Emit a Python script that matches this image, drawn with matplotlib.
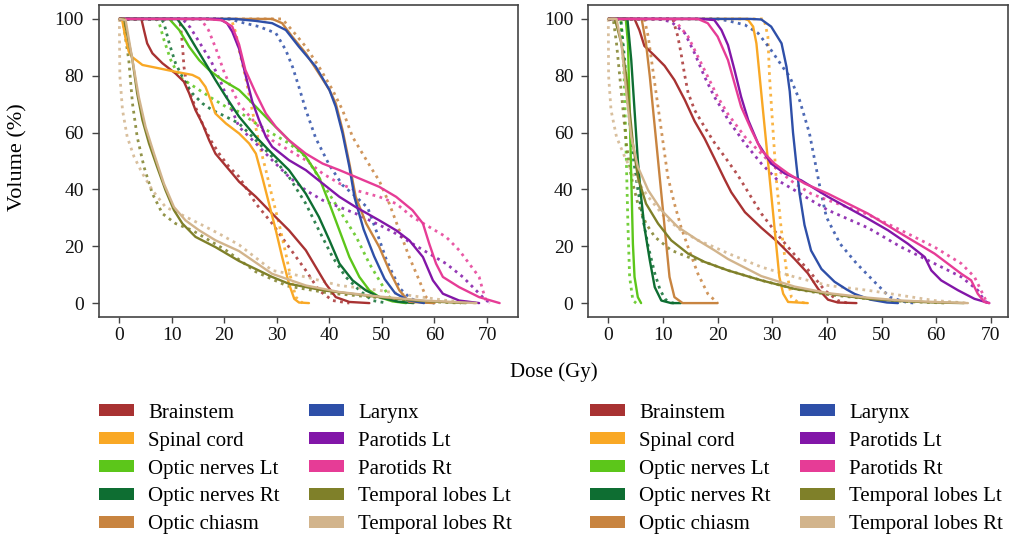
import matplotlib
matplotlib.use("Agg")
import matplotlib.pyplot as plt
from matplotlib.patches import Patch

plt.rcParams['font.family'] = ['Liberation Serif', 'DejaVu Serif']

structures = ['Brainstem', 'Spinal cord', 'Optic nerves Lt', 'Optic nerves Rt', 'Optic chiasm',
              'Larynx', 'Parotids Lt', 'Parotids Rt', 'Temporal lobes Lt', 'Temporal lobes Rt']
colors = ['#A83232', '#F9A825', '#5CC61A', '#0E6E32', '#C88440',
          '#2E4FA8', '#8216A8', '#E63C96', '#7F8029', '#D2B48C']

x_ticks = [0, 10, 20, 30, 40, 50, 60, 70]
y_ticks = [0, 20, 40, 60, 80, 100]

# ---------------- LEFT PANEL ----------------
# solid curves
L_brainstem_s_dose = [0, 4.2, 4.7, 5.3, 6.3, 8.2, 10.7, 12.3, 13.3, 14.5, 15.8, 17.1, 18.3, 19.9, 21.5, 22.8, 26.0, 29.1, 32.3, 35.5, 37.4, 39.3, 41.2, 43.8, 47.6]
L_brainstem_s_vol = [100, 100, 96, 91.4, 87.9, 84.4, 80.8, 77.9, 73.8, 67.9, 63.2, 57.3, 52.6, 49.1, 45.6, 42.7, 37.4, 31.5, 25.6, 18.6, 12.7, 6.8, 2.1, 0.4, 0]
L_spinal_s_dose = [0, 0.5, 1.2, 1.8, 2.5, 4.4, 7.6, 10.7, 13.9, 15.2, 16.4, 17.4, 18.3, 20.3, 22.8, 24.7, 26.0, 27.2, 28.5, 29.8, 31.0, 32.3, 33.3, 34.2, 36.1]
L_spinal_s_vol = [100, 100, 93, 88.5, 86.5, 83.8, 82.6, 81.4, 80.3, 79.1, 76.1, 71.4, 66.7, 63.2, 59.7, 56.2, 52.6, 44.4, 35.0, 25.6, 16.2, 6.8, 1.5, 0.2, 0]
L_onlt_s_dose = [0, 9.5, 11.4, 13.3, 15.2, 17.1, 19.6, 22.8, 26.0, 29.1, 32.3, 35.5, 38.0, 40.0, 41.9, 43.8, 45.7, 47.6, 49.5, 52.0, 54.6]
L_onlt_s_vol = [100, 100, 96.1, 90.2, 85.5, 82.0, 78.5, 75.0, 69.1, 63.2, 57.3, 51.5, 44.4, 35.0, 25.6, 16.2, 9.2, 4.5, 2.1, 0.6, 0]
L_onrt_s_dose = [0, 11.0, 12.6, 14.5, 16.4, 18.3, 20.3, 22.8, 26.0, 29.1, 32.3, 35.5, 38.0, 40.0, 41.9, 44.4, 46.9, 49.5, 53.0, 56.0]
L_onrt_s_vol = [100, 100, 96.1, 90.2, 84.4, 78.5, 72.6, 65.6, 58.5, 52.6, 46.8, 38.5, 30.3, 22.1, 13.9, 8.0, 4.5, 2.1, 0.5, 0]
L_chiasm_s_dose = [0, 29.1, 31.0, 32.9, 35.5, 38.0, 40.0, 41.2, 42.5, 43.8, 45.0, 47.0, 49.5, 51.4, 53.3, 55.2, 60.0]
L_chiasm_s_vol = [100, 100, 98.5, 93.8, 87.9, 80.8, 75.0, 70.3, 60.9, 49.1, 37.4, 28.0, 19.7, 11.5, 4.5, 0.4, 0]
L_larynx_s_dose = [0, 22.0, 26.0, 29.1, 31.7, 34.2, 37.4, 40.0, 41.2, 42.5, 43.8, 44.8, 46.5, 48.5, 50.5, 52.5, 55.0, 58.0]
L_larynx_s_vol = [100, 100, 99.3, 98.5, 96.1, 90.2, 83.2, 75.0, 69.1, 59.7, 47.9, 37.0, 26.0, 16.5, 8.5, 3.5, 1.0, 0]
L_parlt_s_dose = [0, 19.0, 20.5, 21.5, 22.8, 24.0, 25.3, 26.6, 27.9, 29.1, 32.3, 35.5, 38.7, 41.9, 45.0, 49.5, 52.7, 55.2, 57.8, 59.7, 61.6, 64.7, 68.5]
L_parlt_s_vol = [100, 100, 98.5, 95.5, 89.5, 80.5, 71.0, 64.4, 58.5, 55.0, 50.3, 46.8, 42.1, 37.4, 33.8, 29.1, 25.6, 22.1, 16.2, 8.0, 3.3, 0.9, 0]
L_parrt_s_dose = [0, 16.4, 19.6, 21.5, 22.8, 24.0, 26.0, 27.9, 29.8, 32.3, 35.5, 38.7, 41.9, 45.0, 49.5, 52.7, 55.8, 57.8, 59.0, 60.3, 61.6, 64.7, 68.5, 72.4]
L_parrt_s_vol = [100, 100, 99.5, 97.3, 91.0, 82.0, 73.8, 66.7, 62.0, 57.3, 52.6, 49.1, 46.8, 44.4, 40.9, 37.4, 32.7, 28.0, 20.9, 13.9, 9.2, 5.6, 2.1, 0]
L_tllt_s_dose = [0, 0.9, 2.5, 3.4, 4.4, 5.65, 7.2, 8.8, 10.4, 12.0, 14.5, 18.3, 22.8, 29.1, 32.3, 38.7, 49.5, 57.0, 66.0]
L_tllt_s_vol = [100, 100, 85.5, 73.8, 64.4, 56.2, 47.9, 39.7, 32.7, 28.0, 23.3, 19.7, 14.8, 9.2, 6.8, 4.5, 2.1, 0.8, 0]
L_tlrt_s_dose = [0, 1.2, 2.5, 3.7, 5.0, 6.6, 8.5, 10.4, 12.6, 15.2, 18.3, 22.8, 29.1, 35.5, 41.9, 49.5, 58.0, 68.0]
L_tlrt_s_vol = [100, 99.6, 85.5, 72.6, 62.0, 52.6, 42.0, 33.8, 29.1, 25.6, 22.1, 18.3, 10.3, 6.2, 3.9, 2.3, 0.9, 0]

# dotted curves
L_brainstem_d_dose = [0, 11.5, 12.0, 12.3, 12.9, 14.2, 15.8, 17.4, 19.0, 20.9, 22.8, 26.0, 29.1, 32.3, 35.5, 38.0, 40.6, 43.8]
L_brainstem_d_vol = [100, 100, 91.4, 83.2, 76.1, 70.3, 63.2, 57.3, 52.6, 47.9, 44.4, 35.0, 28.0, 19.7, 11.5, 4.5, 0.9, 0]
L_spinal_d_dose = [0, 21.3, 22.2, 22.8, 24.0, 25.3, 26.6, 27.9, 29.1, 30.4, 31.7, 32.6, 33.6, 34.9]
L_spinal_d_vol = [100, 100, 95, 89, 79.7, 67.9, 56.2, 46.8, 37.4, 28.0, 17.4, 9.2, 2.1, 0]
L_onlt_d_dose = [0, 7.0, 7.6, 8.5, 9.8, 11.4, 13.3, 15.2, 17.7, 20.3, 22.8, 26.0, 29.1, 32.3, 35.5, 38.7, 41.9, 45.1, 47.6, 49.5, 51.4, 53.3]
L_onlt_d_vol = [100, 100, 98.5, 92.6, 85.5, 79.7, 77.3, 75.0, 72.0, 69.1, 67.3, 63.2, 59.7, 56.2, 51.5, 42.1, 32.7, 23.3, 13.9, 8.0, 2.1, 0]
L_onrt_d_dose = [0, 8.0, 8.5, 9.5, 10.7, 12.3, 13.9, 15.8, 17.7, 20.3, 22.8, 26.0, 29.1, 32.3, 35.5, 38.0, 40.6, 43.1, 45.7, 48.2, 51.0]
L_onrt_d_vol = [100, 100, 98.5, 91.4, 84.4, 78.5, 73.8, 70.3, 67.9, 65.6, 63.2, 57.3, 51.5, 44.4, 35.0, 25.6, 16.2, 9.2, 4.5, 0.9, 0]
L_chiasm_d_dose = [0, 31.0, 32.9, 35.5, 38.0, 40.6, 42.5, 44.4, 46.3, 48.2, 49.5, 51.4, 53.3, 55.2, 57.1, 58.4, 59.7]
L_chiasm_d_vol = [100, 100, 96, 90.2, 83.2, 75.0, 67.9, 58.5, 52.6, 46.8, 43.0, 35.0, 25.6, 16.2, 8.0, 2.1, 0]
L_larynx_d_dose = [0, 21.0, 22.8, 26.6, 29.8, 31.7, 33.0, 34.2, 35.5, 37.4, 40.0, 42.5, 45.0, 47.3, 49.0, 50.8, 52.0, 53.5, 55.5, 58.0, 60.0]
L_larynx_d_vol = [100, 100, 99, 97.3, 95, 89, 83, 76, 68, 58, 48.5, 41.5, 37.5, 33.5, 25.0, 15.5, 10.5, 5.0, 1.5, 0.3, 0]
L_parlt_d_dose = [0, 12.0, 13.5, 15.5, 17.5, 19.5, 21.2, 22.8, 26.0, 29.1, 32.3, 35.5, 38.7, 41.9, 45.0, 49.5, 52.7, 55.8, 59.0, 62.2, 65.4, 67.9, 69.8, 71.1]
L_parlt_d_vol = [100, 100, 97, 91, 85, 77, 69, 62, 56.2, 50.3, 44.4, 39.7, 36.2, 33.8, 31.5, 27.5, 24.4, 20.9, 17.4, 13.9, 9.2, 4.5, 0.9, 0]
L_parrt_d_dose = [0, 15.5, 17.0, 18.5, 20.0, 21.5, 22.8, 26.0, 29.1, 32.3, 35.5, 38.7, 41.9, 45.0, 49.5, 52.7, 55.8, 59.0, 62.2, 64.7, 66.6, 68.5, 69.2, 69.8, 70.5]
L_parrt_d_vol = [100, 100, 96, 89, 81, 75, 70, 63.2, 57.3, 53.8, 50.3, 45.6, 42.1, 39.7, 37.4, 35.0, 30.3, 26.8, 23.3, 18.6, 13.9, 9.2, 4.5, 0.9, 0]
L_tllt_d_dose = [0, 0.8, 1.8, 2.5, 3.4, 4.7, 6.3, 8.2, 10.7, 13.9, 17.1, 20.3, 26.0, 32.0, 40.0, 50.0, 58.0, 65.0]
L_tllt_d_vol = [100, 98, 85.5, 70.3, 58.5, 47.9, 38.5, 31.5, 28.0, 25.6, 22.1, 18.6, 11.0, 6.0, 3.5, 1.8, 0.6, 0]
L_tlrt_d_dose = [0, 0.05, 0.1, 0.6, 1.5, 2.8, 4.4, 6.3, 8.8, 11.4, 15.2, 19.0, 22.8, 29.1, 35.5, 41.9, 49.5, 56.0, 62.0, 68.0]
L_tlrt_d_vol = [100, 90, 80, 68, 58.5, 51.5, 45.6, 39.7, 33.8, 31.5, 28.0, 24.4, 20.5, 11.5, 9.2, 6.2, 4.5, 2.5, 1.0, 0]

# ---------------- RIGHT PANEL ----------------
R_brainstem_s_dose = [0, 4.8, 5.7, 6.6, 8.5, 10.3, 12.1, 14.0, 15.8, 17.6, 19.4, 21.3, 22.5, 25.0, 28.0, 31.0, 34.1, 36.5, 38.4, 40.2, 42.0, 45.4]
R_brainstem_s_vol = [100, 100, 96, 90.5, 87, 83.5, 78.5, 71.5, 64, 58, 51, 43.5, 39, 32, 26.5, 21.5, 15.5, 10.5, 5, 1.2, 0.2, 0]
R_spinal_s_dose = [0, 25.0, 25.6, 26.5, 27.1, 27.7, 28.3, 28.9, 29.5, 30.1, 30.7, 31.3, 32.0, 32.9, 36.5]
R_spinal_s_vol = [100, 100, 99.6, 97.3, 91.4, 79.7, 67.9, 56.2, 44.4, 32.7, 20.9, 9.2, 3.3, 0.4, 0]
R_onlt_s_dose = [0, 3.2, 3.6, 3.9, 4.2, 4.5, 4.8, 5.4, 6.0]
R_onlt_s_vol = [100, 100, 91.4, 67.9, 44.4, 20.9, 9.2, 2.1, 0]
R_onrt_s_dose = [0, 3.5, 4.2, 4.8, 5.4, 6.0, 6.6, 7.6, 8.5, 9.7, 11.5, 13.3]
R_onrt_s_vol = [100, 100, 85.5, 67.9, 50.3, 37.4, 26.8, 15.0, 5.6, 0.9, 0, 0]
R_chiasm_s_dose = [0, 6.1, 6.9, 7.6, 8.2, 8.8, 9.4, 10.0, 10.6, 11.2, 12.1, 13.6, 20.0]
R_chiasm_s_vol = [100, 100, 91.4, 79.7, 67.9, 56.2, 44.4, 32.7, 20.9, 9.2, 2.1, 0, 0]
R_larynx_s_dose = [0, 26.0, 28.0, 29.8, 31.7, 32.6, 33.2, 33.8, 34.4, 35.0, 35.9, 37.1, 39.0, 41.4, 43.6, 45.1, 48.0, 51.0, 53.0]
R_larynx_s_vol = [100, 100, 99.8, 97.3, 91.4, 83.2, 74.5, 60.0, 49.0, 38.5, 27.5, 18.5, 12.0, 7.5, 4.8, 3.2, 1.2, 0.2, 0]
R_parlt_s_dose = [0, 17.0, 19.4, 20.7, 21.9, 23.1, 24.3, 25.6, 27.4, 29.8, 32.3, 35.3, 40.2, 47.5, 51.2, 54.8, 57.9, 59.1, 60.9, 64.0, 67.0, 69.7]
R_parlt_s_vol = [100, 100, 99.6, 96.1, 90.8, 82, 72.6, 64.4, 56.2, 49.1, 45.6, 43.2, 37.4, 29.7, 25.6, 20.9, 16.2, 11.5, 8.0, 4.5, 1.5, 0]
R_parrt_s_dose = [0, 16.4, 18.2, 20.0, 21.9, 23.1, 24.3, 26.2, 28.0, 30.4, 32.9, 35.9, 40.2, 47.5, 53.6, 59.7, 64.6, 66.4, 67.6, 68.8, 69.7]
R_parrt_s_vol = [100, 100, 98.5, 93.8, 85.5, 77.3, 69.1, 60.9, 53.8, 49.1, 45.6, 42.1, 38.5, 31.5, 24.4, 17.4, 10.3, 8.0, 3.3, 0.4, 0]
R_tllt_s_dose = [0, 1.2, 2.4, 3.3, 3.9, 4.5, 5.4, 6.9, 9.1, 11.5, 14.6, 17.6, 21.9, 28.0, 34.1, 40.2, 47.5, 53.6, 59.7, 65.0]
R_tllt_s_vol = [100, 100, 91.4, 79.7, 67.9, 56.2, 44.4, 35.0, 28.0, 22.1, 17.4, 14.5, 11.5, 8.0, 5.0, 3.3, 1.5, 0.7, 0.2, 0]
R_tlrt_s_dose = [0, 1.5, 2.4, 3.3, 4.2, 5.4, 7.3, 9.7, 12.7, 16.4, 19.4, 21.9, 28.0, 34.1, 40.2, 47.5, 53.6, 59.7, 65.8]
R_tlrt_s_vol = [100, 100, 91.4, 73.8, 58.5, 48.0, 39.7, 32.7, 26.8, 22.1, 18.6, 15.5, 9.5, 5.8, 3.5, 1.9, 0.9, 0.4, 0]

R_brainstem_d_dose = [0, 11.8, 12.7, 13.3, 14.0, 14.6, 15.8, 17.6, 19.4, 21.3, 23.7, 25.6, 28.0, 31.0, 34.1, 37.1, 39.6, 42.0, 43.8]
R_brainstem_d_vol = [100, 100, 94, 88, 80, 74, 67.9, 62, 56.5, 51.5, 45, 39, 31.5, 24, 17, 10.5, 4.5, 0.9, 0]
R_spinal_d_dose = [0, 28.5, 29.2, 29.5, 30.1, 30.7, 31.6, 32.6, 33.5, 34.7, 36.5]
R_spinal_d_vol = [100, 100, 93.8, 79.7, 62, 44.4, 26.8, 11.5, 2.1, 0.3, 0]
R_onlt_d_dose = [0, 2.3, 2.9, 3.3, 3.6, 3.9, 4.5, 5.1]
R_onlt_d_vol = [100, 100, 79.7, 50.3, 26.8, 9.2, 0.9, 0]
R_onrt_d_dose = [0, 2.3, 3.0, 3.6, 4.5, 5.4, 6.3, 7.3, 8.5, 9.5, 10.5, 11.5, 12.0]
R_onrt_d_vol = [100, 99.6, 85.5, 70, 52, 40, 30, 20, 10.5, 4.5, 1.2, 0.2, 0]
R_chiasm_d_dose = [0, 6.6, 7.3, 8.5, 9.7, 10.9, 12.1, 13.3, 14.6, 16.4, 18.2, 20.0]
R_chiasm_d_vol = [100, 100, 93.8, 77.3, 60.9, 44.4, 35.0, 26.8, 19.7, 10.3, 3.3, 0]
R_larynx_d_dose = [0, 20.0, 22.0, 25.0, 27.4, 29.8, 32.3, 33.2, 35.0, 36.8, 38.0, 38.7, 39.9, 42.4, 45.4, 49.0, 51.5, 54.5, 56.0]
R_larynx_d_vol = [100, 100, 99.3, 97.9, 95, 89, 82, 79.7, 71.4, 59.8, 48, 41, 30.3, 20.9, 14, 6.9, 2.1, 0.3, 0]
R_parlt_d_dose = [0, 9.1, 11.5, 14.0, 15.8, 17.6, 19.4, 21.3, 21.9, 25.0, 28.0, 31.0, 34.1, 37.1, 40.2, 47.5, 53.6, 59.7, 64.6, 67.6, 68.8, 69.4]
R_parlt_d_vol = [100, 100, 99, 95, 87.9, 79.7, 72.6, 66.7, 64.5, 56.2, 49.1, 43.2, 39.7, 36.2, 32.7, 26.5, 19.7, 13.9, 9.2, 4.5, 0.9, 0]
R_parrt_d_dose = [0, 11.0, 12.1, 14.6, 16.4, 18.2, 20.0, 21.9, 25.0, 28.0, 31.0, 34.1, 37.1, 40.2, 47.5, 53.6, 59.7, 64.6, 67.0, 68.2, 69.1, 69.7]
R_parrt_d_vol = [100, 100, 99.6, 93.8, 86.7, 79.7, 72.6, 66.5, 58.5, 52.6, 46.8, 42.1, 38.5, 36.2, 31.2, 25.6, 19.7, 13.9, 9.2, 4.5, 0.9, 0]
R_tllt_d_dose = [0, 0.9, 1.5, 2.1, 2.7, 3.3, 4.2, 5.4, 6.9, 8.5, 11.5, 14.6, 17.6, 21.9, 28.0, 34.1, 40.2, 47.5, 55.0, 62.0]
R_tllt_d_vol = [100, 100, 91.4, 79.7, 67.9, 56.2, 44.4, 35.0, 28.0, 23.3, 18.6, 16.2, 14.5, 11.5, 8.0, 5.0, 3.0, 1.5, 0.5, 0]
R_tlrt_d_dose = [0, 0.05, 0.5, 1.5, 3.0, 4.8, 7.3, 10.3, 13.3, 16.4, 19.4, 21.9, 28.0, 34.1, 40.2, 47.5, 53.6, 59.7, 65.8]
R_tlrt_d_vol = [100, 80, 67.9, 58.5, 51.5, 44.4, 37.4, 30.3, 25.6, 22.1, 19.7, 17.5, 12.7, 9.2, 6.2, 4.5, 2.7, 0.9, 0]

left_solid = [(L_brainstem_s_dose, L_brainstem_s_vol), (L_spinal_s_dose, L_spinal_s_vol),
              (L_onlt_s_dose, L_onlt_s_vol), (L_onrt_s_dose, L_onrt_s_vol),
              (L_chiasm_s_dose, L_chiasm_s_vol), (L_larynx_s_dose, L_larynx_s_vol),
              (L_parlt_s_dose, L_parlt_s_vol), (L_parrt_s_dose, L_parrt_s_vol),
              (L_tllt_s_dose, L_tllt_s_vol), (L_tlrt_s_dose, L_tlrt_s_vol)]
left_dotted = [(L_brainstem_d_dose, L_brainstem_d_vol), (L_spinal_d_dose, L_spinal_d_vol),
               (L_onlt_d_dose, L_onlt_d_vol), (L_onrt_d_dose, L_onrt_d_vol),
               (L_chiasm_d_dose, L_chiasm_d_vol), (L_larynx_d_dose, L_larynx_d_vol),
               (L_parlt_d_dose, L_parlt_d_vol), (L_parrt_d_dose, L_parrt_d_vol),
               (L_tllt_d_dose, L_tllt_d_vol), (L_tlrt_d_dose, L_tlrt_d_vol)]
right_solid = [(R_brainstem_s_dose, R_brainstem_s_vol), (R_spinal_s_dose, R_spinal_s_vol),
               (R_onlt_s_dose, R_onlt_s_vol), (R_onrt_s_dose, R_onrt_s_vol),
               (R_chiasm_s_dose, R_chiasm_s_vol), (R_larynx_s_dose, R_larynx_s_vol),
               (R_parlt_s_dose, R_parlt_s_vol), (R_parrt_s_dose, R_parrt_s_vol),
               (R_tllt_s_dose, R_tllt_s_vol), (R_tlrt_s_dose, R_tlrt_s_vol)]
right_dotted = [(R_brainstem_d_dose, R_brainstem_d_vol), (R_spinal_d_dose, R_spinal_d_vol),
                (R_onlt_d_dose, R_onlt_d_vol), (R_onrt_d_dose, R_onrt_d_vol),
                (R_chiasm_d_dose, R_chiasm_d_vol), (R_larynx_d_dose, R_larynx_d_vol),
                (R_parlt_d_dose, R_parlt_d_vol), (R_parrt_d_dose, R_parrt_d_vol),
                (R_tllt_d_dose, R_tllt_d_vol), (R_tlrt_d_dose, R_tlrt_d_vol)]

W, H = 1009, 537
fig = plt.figure(figsize=(W / 100, H / 100), dpi=100)
ax1 = fig.add_axes([99 / W, 219.7 / H, 419 / W, 312.3 / H])
ax2 = fig.add_axes([588.3 / W, 219.7 / H, 419.5 / W, 312.3 / H])

spine_c = '#444444'
for ax, solid, dotted, xlim in [(ax1, left_solid, left_dotted, (-3.87, 75.9)),
                                (ax2, right_solid, right_dotted, (-3.66, 73.1))]:
    for (d, v), c in zip(dotted, colors):
        ax.plot(d, v, color=c, lw=2.0, linestyle=(0, (1.0, 1.6)), alpha=0.85,
                solid_joinstyle='round')
    for (d, v), c in zip(solid, colors):
        ax.plot(d, v, color=c, lw=1.7, solid_capstyle='round', solid_joinstyle='round')
    ax.set_xlim(*xlim)
    ax.set_ylim(-5.0, 104.9)
    ax.set_xticks(x_ticks)
    ax.set_yticks(y_ticks)
    ax.tick_params(direction='out', width=1.0, color=spine_c, labelsize=14,
                   labelcolor='#111111')
    ax.tick_params(axis='x', length=4.0, pad=3)
    ax.tick_params(axis='y', length=4.8, pad=6)
    for s in ax.spines.values():
        s.set_color(spine_c)
        s.set_linewidth(1.2)

handles = [Patch(facecolor=c, edgecolor='none', label=n) for n, c in zip(structures, colors)]
for xpos in [99 / W, 590 / W]:
    fig.legend(handles=handles, loc='upper left', bbox_to_anchor=(xpos, 0.2484),
               bbox_transform=fig.transFigure, ncol=2, frameon=False, fontsize=15,
               handlelength=1.68, handleheight=0.53, handletextpad=0.67,
               columnspacing=1.42, labelspacing=0.43, borderpad=0, borderaxespad=0)

fig.text(553.5 / W, (H - 372) / H, 'Dose (Gy)', ha='center', va='center', fontsize=15)
fig.text(18 / W, (H - 157) / H, 'Volume (%)', rotation=90, ha='center', va='center', fontsize=16)

fig.savefig('out.png', dpi=100)
